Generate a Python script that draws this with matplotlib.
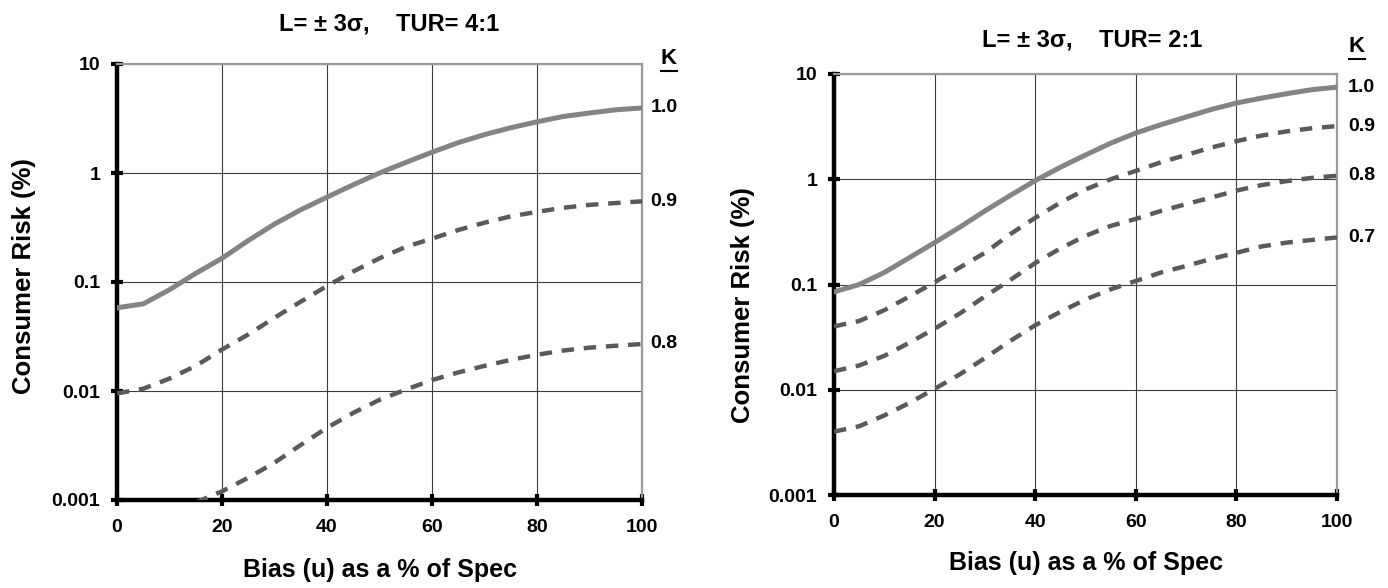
import matplotlib
matplotlib.use('Agg')
import matplotlib.pyplot as plt
from matplotlib.lines import Line2D
from matplotlib.ticker import FixedLocator, FuncFormatter, NullLocator

W, H = 1388, 588

BIAS = [0, 5, 10, 15, 20, 25, 30, 35, 40, 45, 50, 55, 60, 65, 70, 75, 80, 85, 90, 95, 100]
BIAS_FROM_15 = [15, 20, 25, 30, 35, 40, 45, 50, 55, 60, 65, 70, 75, 80, 85, 90, 95, 100]

X_TICKS = [0, 20, 40, 60, 80, 100]
Y_TICKS = [0.001, 0.01, 0.1, 1, 10]

# TUR 4:1
TUR4_K10 = [0.058, 0.063, 0.085, 0.12, 0.165, 0.24, 0.34, 0.46, 0.6, 0.78, 1.0,
            1.25, 1.55, 1.9, 2.25, 2.6, 2.95, 3.3, 3.55, 3.8, 3.95]
TUR4_K09 = [0.0095, 0.0105, 0.013, 0.017, 0.024, 0.033, 0.047, 0.066, 0.092, 0.125, 0.165,
            0.21, 0.25, 0.30, 0.35, 0.40, 0.44, 0.48, 0.51, 0.53, 0.55]
TUR4_K08 = [0.00095, 0.0012, 0.0016, 0.0022, 0.0032, 0.0046, 0.0063, 0.0083, 0.0103,
            0.0126, 0.0148, 0.017, 0.0193, 0.0215, 0.0235, 0.025, 0.026, 0.027]

# TUR 2:1
TUR2_K10 = [0.085, 0.1, 0.13, 0.18, 0.25, 0.35, 0.5, 0.7, 0.97, 1.3, 1.7,
            2.2, 2.75, 3.3, 3.9, 4.6, 5.3, 5.9, 6.5, 7.1, 7.5]
TUR2_K09 = [0.04, 0.045, 0.057, 0.077, 0.105, 0.145, 0.2, 0.3, 0.43, 0.6, 0.8,
            1.0, 1.2, 1.45, 1.7, 2.0, 2.3, 2.6, 2.85, 3.05, 3.2]
TUR2_K08 = [0.015, 0.017, 0.021, 0.028, 0.038, 0.053, 0.077, 0.11, 0.16, 0.22, 0.29,
            0.36, 0.42, 0.5, 0.58, 0.67, 0.78, 0.88, 0.96, 1.03, 1.08]
TUR2_K07 = [0.004, 0.0045, 0.0057, 0.0075, 0.0102, 0.014, 0.02, 0.029, 0.041, 0.055, 0.072,
            0.09, 0.108, 0.13, 0.15, 0.175, 0.2, 0.23, 0.25, 0.265, 0.28]

TITLE_4 = u'L= \u00b1 3\u03c3,    TUR= 4:1'
TITLE_2 = u'L= \u00b1 3\u03c3,    TUR= 2:1'
X_LABEL = 'Bias (u) as a % of Spec'
Y_LABEL = 'Consumer Risk (%)'

SOLID_COLOR = '#848484'
DASH_COLOR = '#5a5a5a'


def fx(px):
  return px / W


def fy(py):
  return 1 - py / H


def _setup_axes(ax):
  ax.set_yscale('log')
  ax.set_xlim(0, 100)
  ax.set_ylim(0.001, 10)
  ax.xaxis.set_major_locator(FixedLocator(X_TICKS))
  ax.yaxis.set_major_locator(FixedLocator(Y_TICKS))
  ax.yaxis.set_minor_locator(NullLocator())
  ax.yaxis.set_major_formatter(FuncFormatter(lambda v, p: '%g' % v))
  ax.grid(True, color='#3c3c3c', linewidth=0.8)
  ax.set_axisbelow(True)
  for side in ('top', 'right'):
    ax.spines[side].set_color('#9a9a9a')
    ax.spines[side].set_linewidth(1.6)
  for side in ('left', 'bottom'):
    ax.spines[side].set_color('black')
    ax.spines[side].set_linewidth(3.2)
  ax.tick_params(direction='inout', length=8, width=3, labelsize=14)
  ax.tick_params(axis='x', pad=10)
  ax.tick_params(axis='y', pad=8)
  for lab in ax.get_xticklabels() + ax.get_yticklabels():
    lab.set_fontweight('bold')


def _curve(ax, x, y, name, dashed, dx):
  if dashed:
    ax.plot(x, y, color=DASH_COLOR, linewidth=3.2, linestyle=(0, (2.8, 2.2)),
            solid_capstyle='butt', zorder=3)
  else:
    ax.plot(x, y, color=SOLID_COLOR, linewidth=3.6, zorder=3)
  ax.annotate(name, xy=(x[-1], y[-1]), xytext=(dx, 0), textcoords='offset points',
              ha='left', va='center', fontsize=14, fontweight='bold',
              annotation_clip=False)


def _k_head(fig, px, py, uy):
  fig.text(fx(px), fy(py), 'K', ha='center', va='center', fontsize=16, fontweight='bold')
  fig.add_artist(Line2D([fx(px - 8), fx(px + 8)], [fy(uy), fy(uy)], color='black', linewidth=1.5))


plt.rcParams['font.family'] = ['Liberation Sans', 'DejaVu Sans']
plt.rcParams['font.weight'] = 'bold'

fig = plt.figure(figsize=(W / 100, H / 100), dpi=100)

left_ax = fig.add_axes([fx(117), fy(500), fx(642) - fx(117), fy(64) - fy(500)])
right_ax = fig.add_axes([fx(834), fy(495), fx(1337) - fx(834), fy(74) - fy(495)])

_setup_axes(left_ax)
_setup_axes(right_ax)

_curve(left_ax, BIAS, TUR4_K10, '1.0', False, 6)
_curve(left_ax, BIAS, TUR4_K09, '0.9', True, 6)
_curve(left_ax, BIAS_FROM_15, TUR4_K08, '0.8', True, 6)

_curve(right_ax, BIAS, TUR2_K10, '1.0', False, 8)
_curve(right_ax, BIAS, TUR2_K09, '0.9', True, 8)
_curve(right_ax, BIAS, TUR2_K08, '0.8', True, 8)
_curve(right_ax, BIAS, TUR2_K07, '0.7', True, 8)

fig.text(fx(389), fy(24), TITLE_4, ha='center', va='center', fontsize=17, fontweight='bold')
fig.text(fx(1092), fy(40), TITLE_2, ha='center', va='center', fontsize=17, fontweight='bold')

fig.text(fx(24), fy(276), Y_LABEL, rotation=90, ha='center', va='center', fontsize=18.5, fontweight='bold')
fig.text(fx(743), fy(305), Y_LABEL, rotation=90, ha='center', va='center', fontsize=18.5, fontweight='bold')

fig.text(fx(380), fy(570), X_LABEL, ha='center', va='center', fontsize=18, fontweight='bold')
fig.text(fx(1086), fy(563), X_LABEL, ha='center', va='center', fontsize=18, fontweight='bold')

_k_head(fig, 669, 58, 71)
_k_head(fig, 1357, 46, 59)

fig.savefig('out.png', dpi=100)
